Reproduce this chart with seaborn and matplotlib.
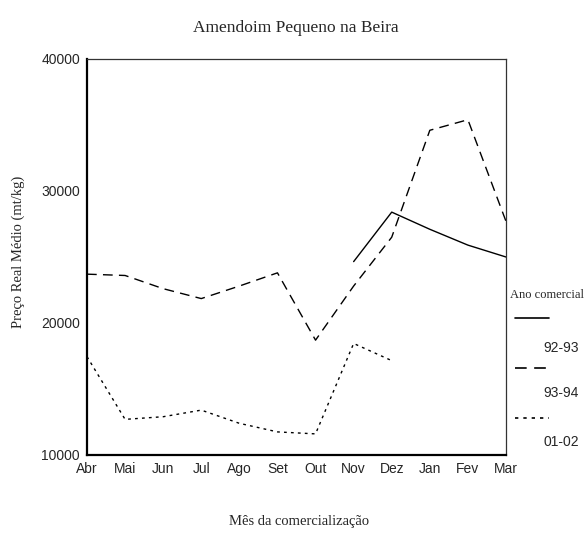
import matplotlib
matplotlib.use('Agg')
import numpy as np
import pandas as pd
import matplotlib.pyplot as plt
import seaborn as sns
from matplotlib.lines import Line2D

# dados
meses = ['Abr', 'Mai', 'Jun', 'Jul', 'Ago', 'Set', 'Out', 'Nov', 'Dez', 'Jan', 'Fev', 'Mar']
anos = ['92-93', '93-94', '01-02']
preco_92_93 = [np.nan, np.nan, np.nan, np.nan, np.nan, np.nan, np.nan, 24650, 28400, 27100, 25900, 25000]
preco_93_94 = [23700, 23600, 22600, 21850, 22800, 23800, 18700, 22800, 26500, 34600, 35400, 27700]
preco_01_02 = [17450, 12700, 12900, 13400, 12400, 11750, 11600, 18450, 17150, np.nan, np.nan, np.nan]

W, H = 585, 535


def px(x, y):
    return x / W, 1 - y / H


def main():
    sns.set_style("white")
    plt.rcParams['font.family'] = ['Liberation Sans', 'DejaVu Sans']

    rows = []
    for ano, vals in zip(anos, [preco_92_93, preco_93_94, preco_01_02]):
        for i, v in enumerate(vals):
            rows.append({'mes': i, 'ano': ano, 'preco': v})
    df = pd.DataFrame(rows).dropna()

    dashes = {'92-93': '', '93-94': (7, 4.5), '01-02': (2, 3)}

    fig = plt.figure(figsize=(W / 100, H / 100), dpi=100)
    ax = fig.add_axes([87 / W, 1 - 455 / H, (506 - 87) / W, (455 - 59) / H])

    sns.lineplot(data=df, x='mes', y='preco', style='ano', style_order=anos,
                 dashes=dashes, color='black', linewidth=1.0, legend=False,
                 sort=False, ax=ax)

    ax.set_xlim(0, len(meses) - 1)
    ax.set_ylim(10000, 40000)
    ax.set_xticks(range(len(meses)))
    ax.set_xticklabels(meses)
    ax.set_yticks([10000, 20000, 30000, 40000])
    ax.set_yticklabels(['10000', '20000', '30000', '40000'])
    ax.tick_params(axis='both', direction='out', length=3, width=3,
                   color='black', labelsize=10, pad=2)
    ax.set_xlabel('')
    ax.set_ylabel('')

    for s in ['left', 'bottom']:
        ax.spines[s].set_linewidth(1.6)
        ax.spines[s].set_color('black')
    for s in ['top', 'right']:
        ax.spines[s].set_linewidth(0.9)
        ax.spines[s].set_color('#333333')

    serif = ['Liberation Serif', 'DejaVu Serif']
    fig.text(*px(296, 28), 'Amendoim Pequeno na Beira', family=serif,
             fontsize=12.5, ha='center', va='center')
    fig.text(*px(299, 521), 'Mês da comercialização', family=serif,
             fontsize=10.5, ha='center', va='center')
    fig.text(*px(18, 252), 'Preço Real Médio (mt/kg)', family=serif,
             fontsize=10.5, ha='center', va='center', rotation=90)

    # legenda manual
    fig.text(*px(510, 295), 'Ano comercial', family=serif, fontsize=9,
             ha='left', va='center')
    sample_y = [318, 368, 418]
    label_y = [348, 393, 442]
    for ano, sy, ly in zip(anos, sample_y, label_y):
        x0, y0 = px(515, sy)
        x1, _ = px(549, sy)
        ln = Line2D([x0, x1], [y0, y0], transform=fig.transFigure,
                    color='black', linewidth=1.2)
        if dashes[ano]:
            ln.set_dashes(dashes[ano])
        fig.add_artist(ln)
        fig.text(*px(579, ly), ano, fontsize=10, ha='right', va='center')

    fig.savefig('out.png', dpi=100)
    plt.close(fig)


if __name__ == "__main__":
    main()
